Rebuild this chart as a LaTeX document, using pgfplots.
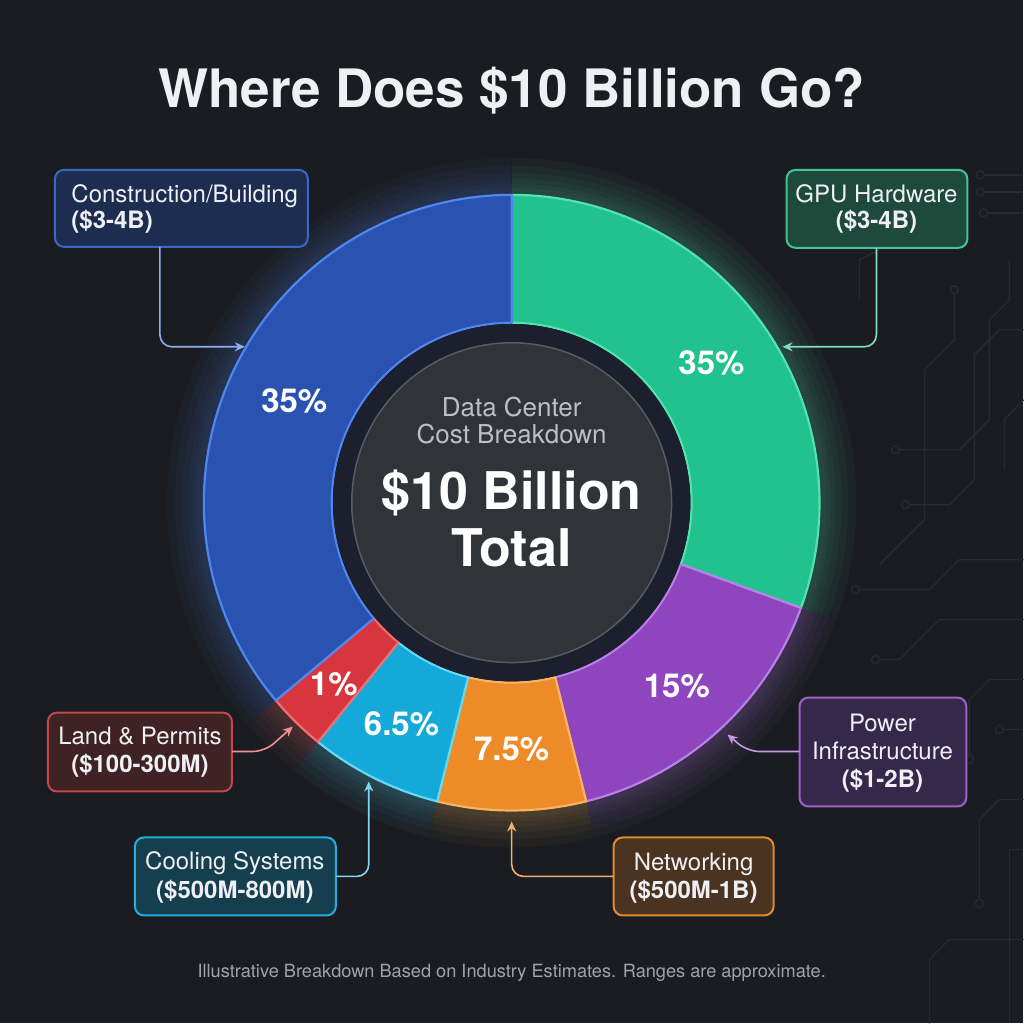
\documentclass[border=0pt]{standalone}
\usepackage{pgfplots}
\pgfplotsset{compat=1.18}
\usepackage{pgfplotstable}
\usetikzlibrary{arrows.meta}
\usepackage{fontspec}
\setmainfont{TeX Gyre Heros}

\definecolor{bg}{HTML}{1A1C21}
\definecolor{trace}{HTML}{272A31}
\definecolor{gpuF}{HTML}{22C28E}\definecolor{gpuL}{HTML}{52E3AE}
\definecolor{powF}{HTML}{8E45BE}\definecolor{powL}{HTML}{B97FEA}
\definecolor{netF}{HTML}{EC8B27}\definecolor{netL}{HTML}{F8B45E}
\definecolor{coolF}{HTML}{14A9D9}\definecolor{coolL}{HTML}{62D9F5}
\definecolor{landF}{HTML}{D7363F}\definecolor{landL}{HTML}{F26D6E}
\definecolor{conF}{HTML}{2A52B0}\definecolor{conL}{HTML}{4F86F0}
\definecolor{conB}{HTML}{1D2D4F}\definecolor{conE}{HTML}{3B68C4}\definecolor{conA}{HTML}{8FB0EE}
\definecolor{gpuB}{HTML}{1E4A3C}\definecolor{gpuE}{HTML}{44C496}\definecolor{gpuA}{HTML}{7FE0BB}
\definecolor{powB}{HTML}{35284A}\definecolor{powE}{HTML}{9C5FD0}\definecolor{powA}{HTML}{C49AE8}
\definecolor{netB}{HTML}{4A3320}\definecolor{netE}{HTML}{E08A30}\definecolor{netA}{HTML}{F0B070}
\definecolor{coolB}{HTML}{153E4E}\definecolor{coolE}{HTML}{22AEE0}\definecolor{coolA}{HTML}{7FD8F0}
\definecolor{landB}{HTML}{3F2224}\definecolor{landE}{HTML}{C04A4A}\definecolor{landA}{HTML}{F09090}
\definecolor{txt}{HTML}{EEF0F3}

% slice table: start/end angles as drawn, label position (polar), colours, label
\pgfplotstableread{
name start end mid r fc lc label
GPU 90 -20 35 244 gpuF gpuL 35\%
Power -20 -76 -48 247 powF powL 15\%
Networking -76 -104 -90 247 netF netL 7.5\%
Cooling -104 -129 -116.5 247 coolF coolL 6.5\%
Land -129 -140 -134.5 254 landF landL 1\%
Construction -140 -270 -205 240 conF conL 35\%
}\slices

\newcommand\glowarc[4]{%
  \draw[#3, line width=#4pt, opacity=0.045] ([shift={(#1:310pt)}]axis cs:0,0) arc[start angle=#1,end angle=#2,radius=310pt];}
\newcommand\slice[4]{%
  \glowarc{#1}{#2}{#4}{70}\glowarc{#1}{#2}{#4}{54}\glowarc{#1}{#2}{#4}{40}%
  \glowarc{#1}{#2}{#4}{28}\glowarc{#1}{#2}{#4}{18}\glowarc{#1}{#2}{#4}{10}%
  \filldraw[fill=#3, draw=#4, line width=2.2pt, line join=round] ([shift={(#1:308pt)}]axis cs:0,0) arc[start angle=#1,end angle=#2,radius=308pt] -- ([shift={(#2:180pt)}]axis cs:0,0) arc[start angle=#2,end angle=#1,radius=180pt] -- cycle;
}

\begin{document}
\begin{tikzpicture}
% background and circuit traces (pixel coordinates)
\fill[bg] (0,0) rectangle (1024pt,1024pt);
\begin{scope}[shift={(0,1024pt)}, x=1pt, y=-1pt, draw=trace, line width=1.3pt]
  \draw (1024,175) -- (985,175); \draw (981,175) circle[radius=4];
  \draw (1024,192) -- (985,192); \draw (981,192) circle[radius=4];
  \draw (1024,213) -- (988,213); \draw (984,213) circle[radius=4];
  \draw (1010,260) -- (1010,300) -- (990,320) -- (990,420) -- (960,450) -- (900,450); \draw (896,450) circle[radius=4];
  \draw (955,294) -- (955,340) -- (925,370) -- (925,520) -- (880,565); \draw (955,290) circle[radius=4];
  \draw (1024,330) -- (1000,330) -- (975,355) -- (975,480) -- (950,505) -- (910,505); \draw (906,505) circle[radius=4];
  \draw (1024,560) -- (960,560) -- (930,590) -- (860,590); \draw (856,590) circle[radius=4];
  \draw (1024,620) -- (940,620) -- (900,660) -- (880,660); \draw (876,660) circle[radius=4];
  \draw (1024,680) -- (990,680) -- (970,700) -- (970,756); \draw (970,760) circle[radius=4];
  \draw (1024,730) -- (1004,730); \draw (1000,730) circle[radius=4];
  \draw (1024,800) -- (1000,800) -- (980,820) -- (980,900); \draw (980,904) circle[radius=4];
  \draw (1024,850) -- (1010,850) -- (1010,1024);
  \draw (1024,940) -- (950,940) -- (930,960) -- (930,1024);
  \draw (860,300) -- (860,260) -- (880,250);
  \draw (1024,400) -- (1005,420) -- (1005,470);
\end{scope}

\begin{axis}[
  x=1pt, y=1pt, scale only axis,
  xmin=-512, xmax=512, ymin=-521, ymax=503,
  hide axis, clip=false,
]
\pgfplotsinvokeforeach{0,...,5}{%
  \pgfplotstablegetelem{#1}{start}\of\slices \let\sA=\pgfplotsretval
  \pgfplotstablegetelem{#1}{end}\of\slices \let\sB=\pgfplotsretval
  \pgfplotstablegetelem{#1}{fc}\of\slices \let\sC=\pgfplotsretval
  \pgfplotstablegetelem{#1}{lc}\of\slices \let\sD=\pgfplotsretval
  \edef\doslice{\noexpand\slice{\sA}{\sB}{\sC}{\sD}}\doslice
}
\fill[fill={rgb,255:red,28;green,32;blue,46}] (axis cs:0,0) circle[radius=178.8pt];
\filldraw[fill={rgb,255:red,48;green,51;blue,56}, draw={rgb,255:red,88;green,91;blue,97}, line width=1.5pt] (axis cs:0,0) circle[radius=160pt];
\addplot[draw=none, mark=none, data cs=polar, nodes near coords, point meta=explicit symbolic,
  every node near coord/.append style={anchor=center, text=white, font=\fontsize{33}{37}\selectfont\bfseries}]
  table[x=mid, y=r, meta=label] {\slices};
\end{axis}

\begin{scope}[shift={(0,1024pt)}, x=1pt, y=-1pt]
  % title
  \node[anchor=base, text=txt, font=\fontsize{53}{60}\selectfont\bfseries] at (512,108) {Where Does \$10 Billion Go?};
  % centre
  \node[anchor=base, text={rgb,255:red,188;green,191;blue,197}, font=\fontsize{26}{30}\selectfont] at (512,417) {Data Center};
  \node[anchor=base, text={rgb,255:red,188;green,191;blue,197}, font=\fontsize{26}{30}\selectfont] at (512,444) {Cost Breakdown};
  \node[anchor=base, text=white, font=\fontsize{52}{58}\selectfont\bfseries] at (512,510) {\$10 Billion};
  \node[anchor=base, text=white, font=\fontsize{52}{58}\selectfont\bfseries] at (512,567) {Total};
  % boxes
  \filldraw[rounded corners=9pt, fill=conB, draw=conE, line width=2pt] (55,170) rectangle (308,247);
  \filldraw[rounded corners=9pt, fill=gpuB, draw=gpuE, line width=2pt] (787,170) rectangle (968,248);
  \filldraw[rounded corners=9pt, fill=powB, draw=powE, line width=2pt] (800,698) rectangle (967,807);
  \filldraw[rounded corners=9pt, fill=netB, draw=netE, line width=2pt] (614,838) rectangle (774,916);
  \filldraw[rounded corners=9pt, fill=coolB, draw=coolE, line width=2pt] (135,838) rectangle (336,916);
  \filldraw[rounded corners=9pt, fill=landB, draw=landE, line width=2pt] (48,713) rectangle (232,792);
  % connectors
  \begin{scope}[line width=1.6pt, rounded corners=12pt, -{Stealth[length=10pt,width=9pt]}]
    \draw[conA] (160,247) -- (160,347) -- (245,347);
    \draw[gpuA] (877,248) -- (877,347) -- (783,347);
    \draw[powA] (800,752) -- (748,752) -- (728,735);
    \draw[netA] (614,877) -- (512,877) -- (512,822);
    \draw[coolA] (336,877) -- (369,877) -- (369,782);
    \draw[landA] (232,752) -- (265,752) -- (293,727);
  \end{scope}
  % box texts
  \begin{scope}[every node/.style={text=txt}]
    \node[anchor=base west, font=\fontsize{24}{28}\selectfont] at (68,203) {Construction/Building};
    \node[anchor=base west, font=\fontsize{24}{28}\selectfont\bfseries] at (68,229) {(\$3-4B)};
    \node[anchor=base, font=\fontsize{24}{28}\selectfont] at (877,203) {GPU Hardware};
    \node[anchor=base, font=\fontsize{24}{28}\selectfont\bfseries] at (877,229) {(\$3-4B)};
    \node[anchor=base, font=\fontsize{24}{28}\selectfont] at (883,732) {Power};
    \node[anchor=base, font=\fontsize{24}{28}\selectfont] at (883,760) {Infrastructure};
    \node[anchor=base, font=\fontsize{24}{28}\selectfont\bfseries] at (883,788) {(\$1-2B)};
    \node[anchor=base, font=\fontsize{24}{28}\selectfont] at (694,871) {Networking};
    \node[anchor=base, font=\fontsize{24}{28}\selectfont\bfseries] at (694,899) {(\$500M-1B)};
    \node[anchor=base, font=\fontsize{24}{28}\selectfont] at (235,870) {Cooling Systems};
    \node[anchor=base, font=\fontsize{24}{28}\selectfont\bfseries] at (235,899) {(\$500M-800M)};
    \node[anchor=base, font=\fontsize{24}{28}\selectfont] at (140,745) {Land \& Permits};
    \node[anchor=base, font=\fontsize{24}{28}\selectfont\bfseries] at (140,773) {(\$100-300M)};
  \end{scope}
  % footer
  \node[anchor=base, text={rgb,255:red,160;green,163;blue,169}, font=\fontsize{18.2}{21}\selectfont] at (512,978) {Illustrative Breakdown Based on Industry Estimates. Ranges are approximate.};
\end{scope}
\end{tikzpicture}
\end{document}
